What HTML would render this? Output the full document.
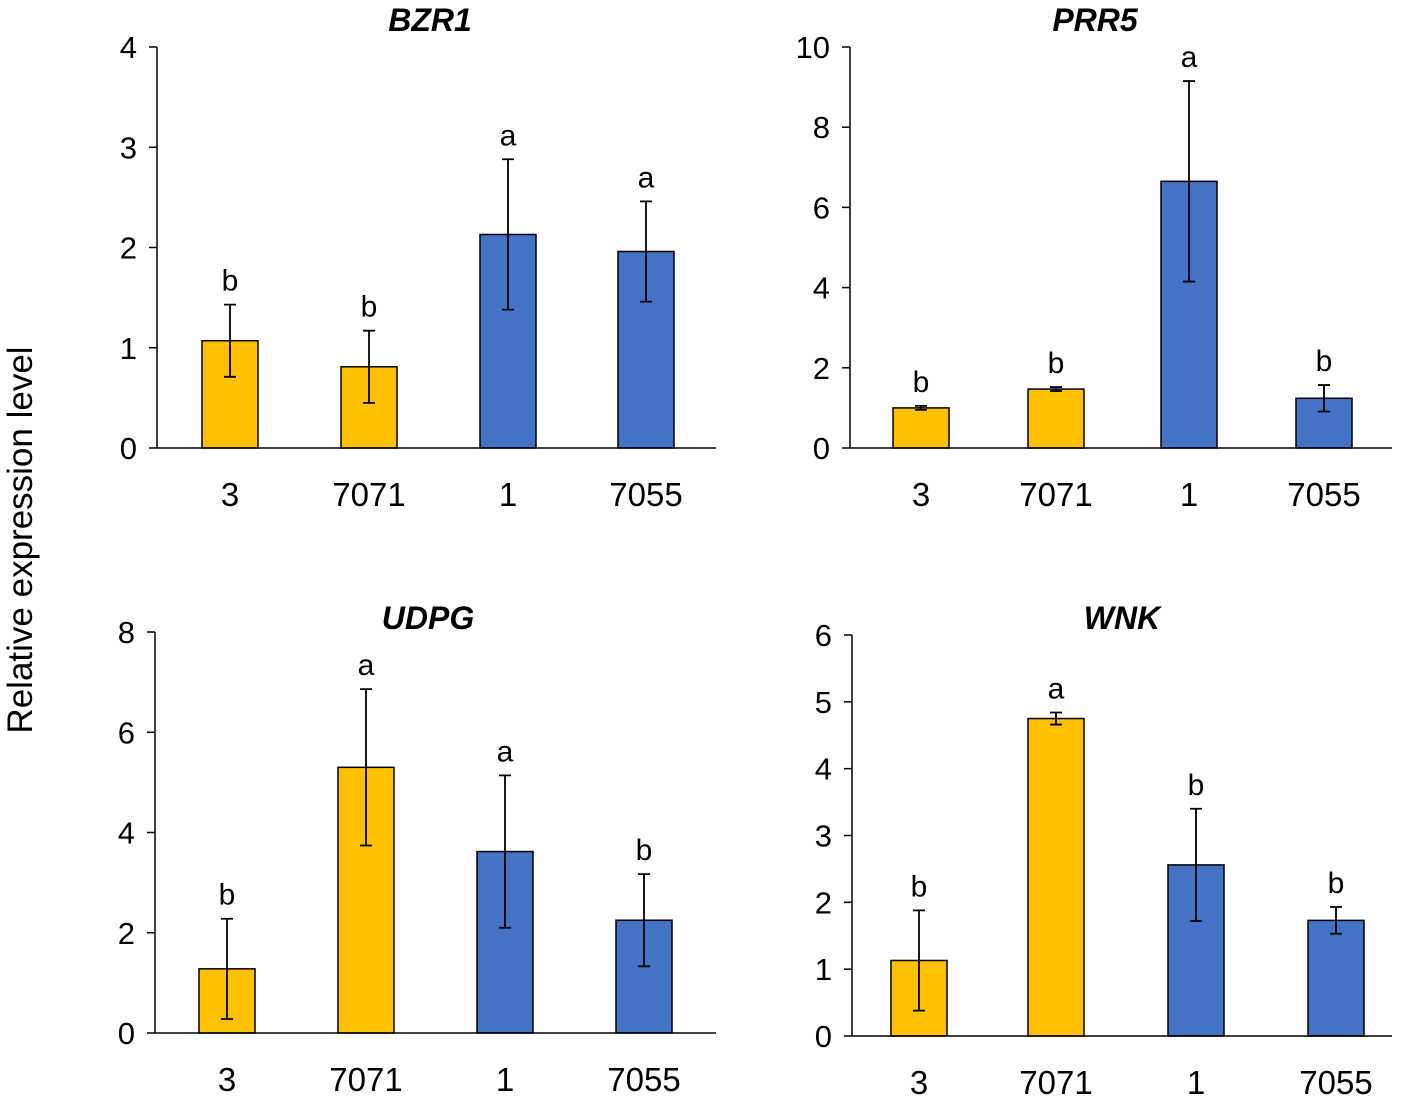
<!DOCTYPE html>
<html><head><meta charset="utf-8"><style>
html,body{margin:0;padding:0;background:#fff;}
svg{display:block;font-family:"Liberation Sans",sans-serif;}
</style></head><body>
<svg id="chart" width="1410" height="1100"></svg>
<script>
const categories = ["3","7071","1","7055"];
const panelTitles = ["BZR1","PRR5","UDPG","WNK"];
const bzr1Values = [1.07,0.81,2.13,1.96];
const bzr1Err = [0.36,0.36,0.75,0.5];
const bzr1Letters = ["b","b","a","a"];
const prr5Values = [1.0,1.47,6.65,1.24];
const prr5Err = [0.05,0.05,2.5,0.33];
const prr5Letters = ["b","b","a","b"];
const udpgValues = [1.28,5.3,3.62,2.25];
const udpgErr = [1.0,1.56,1.52,0.92];
const udpgLetters = ["b","a","a","b"];
const wnkValues = [1.13,4.75,2.56,1.73];
const wnkErr = [0.75,0.09,0.84,0.2];
const wnkLetters = ["b","a","b","b"];
const bzr1Ticks = [0,1,2,3,4];
const prr5Ticks = [0,2,4,6,8,10];
const udpgTicks = [0,2,4,6,8];
const wnkTicks = [0,1,2,3,4,5,6];
const barColors = ["#FFC000","#FFC000","#4472C4","#4472C4"];

const panels = [
 {name:"bzr1",title:panelTitles[0],vals:bzr1Values,err:bzr1Err,letters:bzr1Letters,ticks:bzr1Ticks,max:4,x0:157,x1:716,y0:448,y1:47,centers:[230,369,508,646],titleX:430,titleY:30},
 {name:"prr5",title:panelTitles[1],vals:prr5Values,err:prr5Err,letters:prr5Letters,ticks:prr5Ticks,max:10,x0:850,x1:1392,y0:448,y1:47,centers:[921,1056,1189,1324],titleX:1095,titleY:30},
 {name:"udpg",title:panelTitles[2],vals:udpgValues,err:udpgErr,letters:udpgLetters,ticks:udpgTicks,max:8,x0:155,x1:716,y0:1033,y1:632,centers:[227,366,505,644],titleX:428,titleY:628},
 {name:"wnk",title:panelTitles[3],vals:wnkValues,err:wnkErr,letters:wnkLetters,ticks:wnkTicks,max:6,x0:852,x1:1392,y0:1036,y1:635,centers:[919,1056,1196,1336],titleX:1122,titleY:628}
];
const NS="http://www.w3.org/2000/svg";
const svg=document.getElementById("chart");
function mk(tag,attrs,parent){const e=document.createElementNS(NS,tag);for(const k in attrs)e.setAttribute(k,attrs[k]);(parent||svg).appendChild(e);return e;}

const yl=mk("text",{x:32,y:540,"font-size":35,"text-anchor":"middle",transform:"rotate(-90 32 540)",fill:"#000"});
yl.textContent="Relative expression level";



panels.forEach(p=>{
  const g=mk("g",{});
  
  
  const ys=v=>p.y0-(v/p.max)*(p.y0-p.y1);
  const t=mk("text",{x:p.titleX,y:p.titleY+1,"font-size":32,"font-weight":"bold","font-style":"italic","text-anchor":"middle"},g);
  t.textContent=p.title;
  
  
  p.ticks.forEach(v=>{
    const tk=mk("line",{x1:p.x0-8,x2:p.x0,y1:ys(v),y2:ys(v),stroke:"#000","stroke-width":1.5},g);
    
    
    const tl=mk("text",{x:p.x0-20,y:ys(v)+11,"font-size":31,"text-anchor":"end"},g);
    tl.textContent=v;
    
    
  });
  const bw=56;
  p.vals.forEach((v,i)=>{
    const cx=p.centers[i];
    const r=mk("rect",{x:cx-bw/2,y:ys(v),width:bw,height:p.y0-ys(v),fill:barColors[i],stroke:"#000","stroke-width":1.5},g);
    
    
    const hi=ys(v+p.err[i]),lo=ys(v-p.err[i]);
    const eb=mk("path",{d:`M${cx},${hi}V${lo}M${cx-6},${hi}H${cx+6}M${cx-6},${lo}H${cx+6}`,stroke:"#000","stroke-width":1.8,fill:"none"},g);
    
    
    const lt=mk("text",{x:cx,y:hi-14,"font-size":30,"text-anchor":"middle"},g);
    lt.textContent=p.letters[i];
    
    
    const xl=mk("text",{x:cx,y:p.y0+58,"font-size":33,"text-anchor":"middle"},g);
    xl.textContent=categories[i];
    
    
  });
  const ya=mk("line",{x1:p.x0,x2:p.x0,y1:p.y1,y2:p.y0,stroke:"#000","stroke-width":1.5},g);
  
  
  const xa=mk("line",{x1:p.x0,x2:p.x1,y1:p.y0,y2:p.y0,stroke:"#000","stroke-width":1.5},g);
  
  
});
</script>
</body></html>
